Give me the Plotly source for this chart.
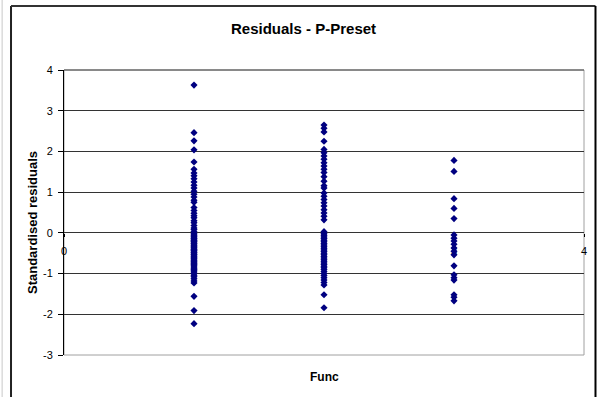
import plotly.graph_objects as go

# ---- data ----
func_levels = [1, 2, 3]
resid_func1 = [3.63, 2.46, 2.26, 2.04, 1.74, 1.56, 1.47, 1.40, 1.33, 1.25, 1.17, 1.10,
               1.02, 0.95, 0.88, 0.80, 0.75, 0.62, 0.55, 0.48, 0.42, 0.37, 0.30, 0.25,
               0.18, 0.12, 0.08, 0.03, -0.02, -0.05, -0.08, -0.10, -0.13, -0.15, -0.18,
               -0.20, -0.22, -0.25, -0.27, -0.30, -0.32, -0.35, -0.37, -0.40, -0.42,
               -0.44, -0.47, -0.49, -0.52, -0.54, -0.57, -0.59, -0.62, -0.64, -0.67,
               -0.70, -0.72, -0.75, -0.78, -0.81, -0.84, -0.87, -0.90, -0.93, -0.96,
               -1.00, -1.04, -1.08, -1.13, -1.18, -1.23, -1.56, -1.91, -2.23]
resid_func2 = [2.65, 2.57, 2.48, 2.25, 2.05, 1.97, 1.89, 1.81, 1.72, 1.64, 1.56, 1.48,
               1.38, 1.27, 1.16, 1.10, 0.98, 0.90, 0.82, 0.74, 0.66, 0.57, 0.49, 0.41,
               0.32, 0.03, -0.02, -0.06, -0.10, -0.14, -0.18, -0.22, -0.26, -0.30, -0.34,
               -0.38, -0.42, -0.46, -0.50, -0.54, -0.58, -0.62, -0.66, -0.70, -0.74,
               -0.78, -0.82, -0.86, -0.90, -0.95, -1.00, -1.05, -1.10, -1.16, -1.22,
               -1.28, -1.52, -1.84]
resid_func3 = [1.78, 1.51, 0.84, 0.60, 0.35, -0.05, -0.13, -0.20, -0.28, -0.37, -0.45,
               -0.54, -0.81, -1.03, -1.10, -1.16, -1.52, -1.58, -1.67]
y_ticks = [-3, -2, -1, 0, 1, 2, 3, 4]
x_ticks = [0, 1, 2, 3, 4]

title_text = "Residuals - P-Preset"
x_title = "Func"
y_title = "Standardised residuals"

FONT = "Liberation Sans, Arial, sans-serif"
NAVY = "#000080"

xs, ys = [], []
for lvl, vals in zip(func_levels, [resid_func1, resid_func2, resid_func3]):
    xs += [lvl] * len(vals)
    ys += vals

fig = go.Figure()
fig.add_trace(go.Scatter(
    x=xs, y=ys, mode="markers", xaxis="x2", yaxis="y",
    marker=dict(symbol="diamond", size=5.5, color=NAVY, line=dict(width=0)),
    showlegend=False, hoverinfo="x+y",
))

fig.update_layout(
    width=598, height=397,
    margin=dict(l=64, r=14, t=70, b=42, pad=0),
    paper_bgcolor="white", plot_bgcolor="white",
    font=dict(family=FONT, size=10, color="black"),
    xaxis=dict(range=[0, 4], domain=[0, 1], showgrid=False, zeroline=False,
               showticklabels=False, ticks="", showline=False),
    xaxis2=dict(range=[0, 4], overlaying="x", anchor="free", position=3 / 7,
                tickvals=x_ticks, ticktext=[str(v) for v in x_ticks],
                ticks="outside", ticklen=3, tickcolor="black", ticklabelstandoff=5,
                showline=False,
                showgrid=False, zeroline=False, layer="below traces",
                tickfont=dict(family=FONT, size=11, color="black")),
    yaxis=dict(range=[-3, 4], domain=[0, 1], tickvals=y_ticks,
               ticktext=[str(v) for v in y_ticks],
               showgrid=True, gridcolor="#333333", gridwidth=1,
               zeroline=False, showline=True, linecolor="black", linewidth=1,
               ticks="outside", ticklen=5, tickcolor="black", ticklabelstandoff=3,
               tickfont=dict(family=FONT, size=11, color="black")),
)

# plot area border (gray) and chart area border
fig.add_shape(type="rect", xref="paper", yref="paper", x0=0, x1=1, y0=0, y1=1,
              line=dict(color="#a0a0a0", width=1), layer="below")
fig.add_shape(type="line", xref="paper", yref="paper", x0=0, x1=1, y0=1, y1=1,
              line=dict(color="#444444", width=1), layer="below")
fig.add_shape(type="line", xref="paper", yref="paper", x0=-0.1019, x1=-0.1019,
              y0=1.2246, y1=-0.2, line=dict(color="#222222", width=2))
fig.add_shape(type="line", xref="paper", yref="paper", x0=-0.1019, x1=1.0221,
              y0=1.2246, y1=1.2246, line=dict(color="#333333", width=2))
fig.add_shape(type="line", xref="paper", yref="paper", x0=1.0221, x1=1.0221,
              y0=1.2246, y1=-0.2, line=dict(color="black", width=2))
fig.add_shape(type="line", xref="paper", yref="paper", x0=-0.119, x1=-0.119,
              y0=1.3, y1=-0.2, line=dict(color="#c8c8c8", width=1))

fig.add_annotation(text="<b>%s</b>" % title_text, xref="paper", yref="paper",
                   x=0.4615, y=1.1456, showarrow=False, xanchor="center", yanchor="middle",
                   font=dict(family=FONT, size=15, color="black"))
fig.add_annotation(text="<b>%s</b>" % x_title, xref="paper", yref="paper",
                   x=0.501, y=-0.0772, showarrow=False, xanchor="center", yanchor="middle",
                   font=dict(family=FONT, size=12, color="black"))
fig.add_annotation(text="<b>%s</b>" % y_title, xref="paper", yref="paper",
                   x=-0.0606, y=0.4649, showarrow=False, textangle=-90,
                   xanchor="center", yanchor="middle",
                   font=dict(family=FONT, size=13, color="black"))

fig.write_html("out.html", config={"displayModeBar": False},
               post_script="document.body.style.margin='0';document.body.style.padding='0';"
                           "document.body.style.overflow='hidden';")
